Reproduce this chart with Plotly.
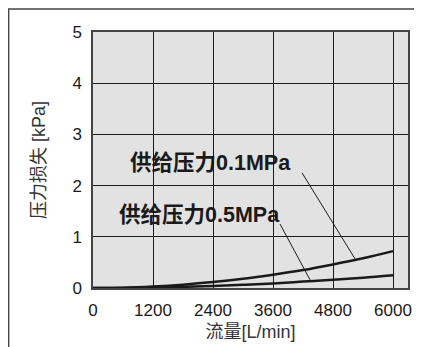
import plotly.graph_objects as go

flow = [0, 600, 1200, 1800, 2400, 3000, 3600, 4200, 4800, 5400, 6000]
loss_01 = [0, 0.007, 0.03, 0.065, 0.115, 0.18, 0.26, 0.35, 0.46, 0.58, 0.72]
loss_05 = [0, 0.002, 0.01, 0.022, 0.04, 0.063, 0.09, 0.125, 0.16, 0.2, 0.25]
x_ticks = [0, 1200, 2400, 3600, 4800, 6000]
y_ticks = [0, 1, 2, 3, 4, 5]
label_01 = "供给压力0.1MPa"
label_05 = "供给压力0.5MPa"

NUM_FONT = "Liberation Sans"
MIX_FONT = "Liberation Sans, Noto Sans CJK SC"

fig = go.Figure()
for ys in (loss_01, loss_05):
    fig.add_trace(go.Scatter(x=flow, y=ys, mode="lines", line=dict(color="#1a1a1a", width=2.5, shape="spline"),
                             showlegend=False, hoverinfo="skip"))

# leader lines
fig.add_trace(go.Scatter(x=[4180, 5240], y=[2.25, 0.57], mode="lines", line=dict(color="#1a1a1a", width=1),
                         showlegend=False, hoverinfo="skip"))
fig.add_trace(go.Scatter(x=[3740, 4340], y=[1.25, 0.16], mode="lines", line=dict(color="#1a1a1a", width=1),
                         showlegend=False, hoverinfo="skip"))

fig.add_annotation(x=4000, y=2.44, text=label_01, showarrow=False, xanchor="right", yanchor="middle",
                   font=dict(family=MIX_FONT, size=21.5, color="#1a1a1a", weight="bold"))
fig.add_annotation(x=3780, y=1.43, text=label_05, showarrow=False, xanchor="right", yanchor="middle",
                   font=dict(family=MIX_FONT, size=21.5, color="#1a1a1a", weight="bold"))

# outer frame (page body margin is 8px, figure starts at page (8,8))
fig.add_shape(type="line", xref="paper", yref="paper", x0=-85/315, x1=1.5, y0=1.0 + 23/256, y1=1.0 + 23/256,
              line=dict(color="#444444", width=1.5))
fig.add_shape(type="line", xref="paper", yref="paper", x0=-85/315 + 0.002, x1=-85/315 + 0.002,
              y0=1.0 + 23/256, y1=-0.5, line=dict(color="#444444", width=1.5))

fig.update_layout(
    width=414, height=339,
    margin=dict(l=85, r=14, t=24, b=59, autoexpand=False),
    paper_bgcolor="white",
    plot_bgcolor="#e2e2e2",
    font=dict(family=NUM_FONT, size=17, color="#1a1a1a"),
    xaxis=dict(range=[0, 6300], tickvals=x_ticks, ticks="", showgrid=True, gridcolor="#1a1a1a", gridwidth=1,
               zeroline=False, showline=True, linecolor="#444444", linewidth=1.5, mirror=True,
               ticklabelstandoff=6, automargin=False,
               title=dict(text="流量[L/min]", font=dict(family=MIX_FONT, size=18, color="#333333"), standoff=6),
               tickfont=dict(family=NUM_FONT, size=17)),
    yaxis=dict(range=[0, 5], tickvals=y_ticks, ticks="", showgrid=True, gridcolor="#1a1a1a", gridwidth=1,
               zeroline=False, showline=True, linecolor="#444444", linewidth=1.5, mirror=True,
               ticklabelstandoff=6, automargin=False,
               title=dict(text="压力损失 [kPa]", font=dict(family=MIX_FONT, size=18, color="#333333"), standoff=22),
               tickfont=dict(family=NUM_FONT, size=17)),
)

fig.write_html("out.html")
